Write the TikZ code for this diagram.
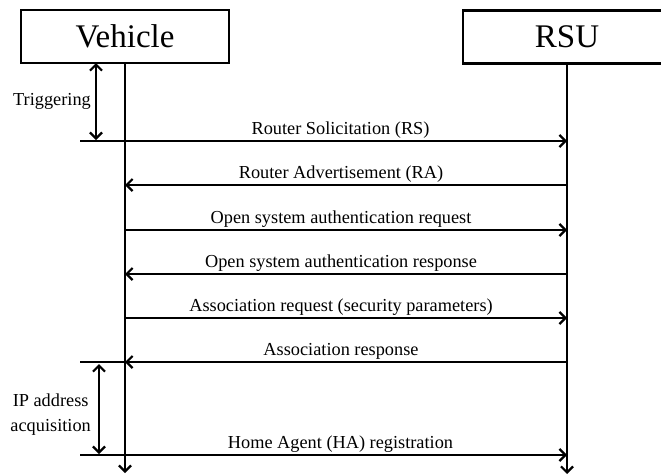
\documentclass[tikz,border=0pt]{standalone}
\usepackage{fontspec}
\setmainfont{Liberation Serif}
\usetikzlibrary{arrows.meta}
\begin{document}
\begin{tikzpicture}[x=1pt,y=-1pt,
  lw/.style={line width=2.2pt},
  tip/.style={-{Straight Barb[length=6pt,width=12pt]}},
  msg/.style={lw,tip},
  twoway/.style={lw,{Straight Barb[length=6pt,width=12pt]}-{Straight Barb[length=6pt,width=12pt]}},
  actor/.style={draw,lw,minimum width=208pt,minimum height=53pt,inner sep=0pt,font=\fontsize{33}{33}\selectfont},
  lbl/.style={font=\fontsize{18.3}{20}\selectfont,inner sep=1.5pt},
  side/.style={font=\fontsize{18.3}{25}\selectfont,align=center,anchor=east,inner sep=0pt}]
\useasboundingbox (0,0) rectangle (661,474);
\path[clip] (0,0) rectangle (661,474);
\fill[white] (0,0) rectangle (661,474);
% actors
\node[actor] (veh) at (125,36.5) {Vehicle};
\node[actor] (rsu) at (567,37) {RSU};
% lifeline points
\coordinate (vend) at (125,473);
\coordinate (rend) at (567,474);
\foreach \n/\y in {1/141,2/185,3/230,4/274,5/318,6/362,7/455}{
  \coordinate (v\n) at (125,\y);
  \coordinate (r\n) at (567,\y);
}
\coordinate (trigA) at (96,63);
\coordinate (trigB) at (96,140);
\coordinate (rsL) at (80,141);
\coordinate (arL) at (80,362);
\coordinate (ipA) at (99,364);
\coordinate (ipB) at (99,454);
\coordinate (haL) at (80,455);
% lifelines
\draw[msg] (veh.south) -- (vend);
\draw[msg] (rsu.south) -- (rend);
% messages
\draw[msg] (rsL) -- (r1) node[lbl,midway,above,xshift=17pt] {Router Solicitation (RS)};
\draw[msg] (r2) -- (v2) node[lbl,midway,above,xshift=-5pt] {Router Advertisement (RA)};
\draw[msg] (v3) -- (r3) node[lbl,midway,above,xshift=-5pt] {Open system authentication request};
\draw[msg] (r4) -- (v4) node[lbl,midway,above,xshift=-5pt] {Open system authentication response};
\draw[msg] (v5) -- (r5) node[lbl,midway,above,xshift=-5pt] {Association request (security parameters)};
\draw[msg] (r6) -- (v6) node[lbl,midway,above,xshift=-5pt] {Association response};
\draw[lw] (v6) -- (arL);
\draw[msg] (haL) -- (r7) node[lbl,midway,above,xshift=17pt] {Home Agent (HA) registration};
% phases
\draw[twoway] (trigA) -- (trigB);
\node[side] (trig) at (91,101) {Triggering};
\draw[twoway] (ipA) -- (ipB);
\node[side] (ip) at (91,415) {IP address\\acquisition};
\end{tikzpicture}
\end{document}
